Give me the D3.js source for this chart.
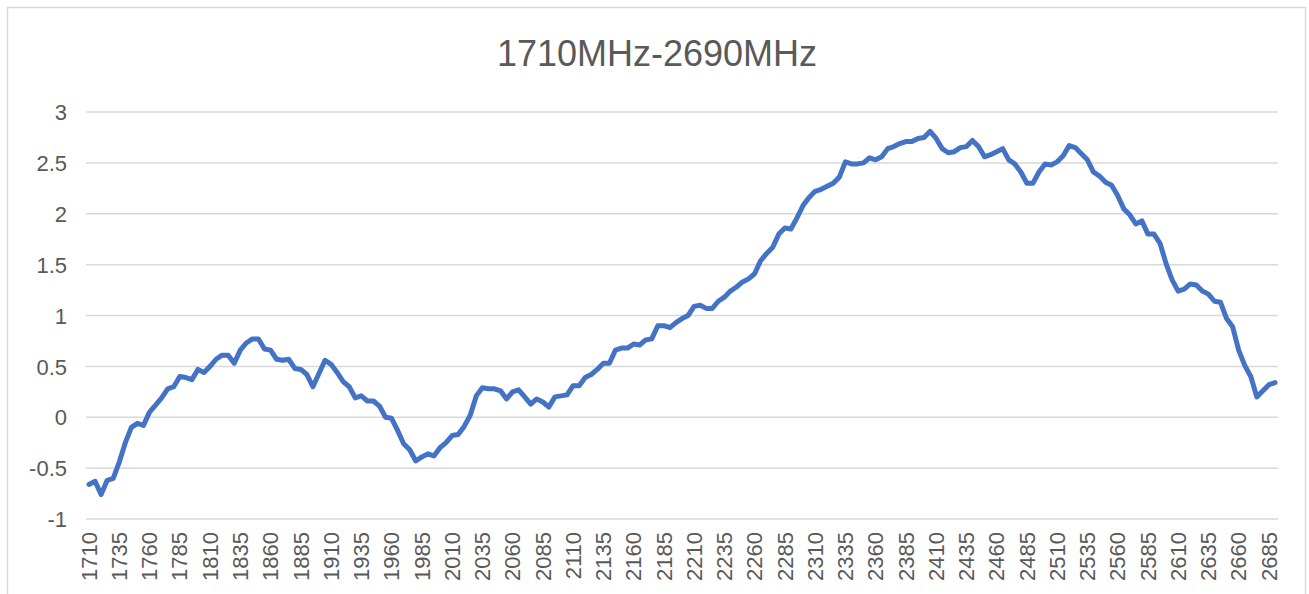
<!DOCTYPE html>
<html>
<head>
<meta charset="utf-8">
<script src="https://cdn.jsdelivr.net/npm/d3@7"></script>
<style>
  body { margin: 0; background: #fff; }
  svg text { font-family: "Liberation Sans", Arial, sans-serif; fill: #595959; }
</style>
</head>
<body>
<svg id="chart" width="1309" height="594"></svg>
<script>
// frequency categories (MHz), 5 MHz steps
const freqs = d3.range(1710, 2695, 5);

// measured values, one per frequency
const values = [
  -0.66, -0.63, -0.76, -0.62, -0.60, -0.44, -0.25, -0.10, -0.06, -0.08,
  0.05, 0.12, 0.19, 0.28, 0.30, 0.40, 0.39, 0.37, 0.47, 0.44,
  0.50, 0.57, 0.61, 0.61, 0.53, 0.66, 0.73, 0.77, 0.77,
  0.67, 0.66, 0.57, 0.56, 0.57, 0.48, 0.47, 0.42, 0.30, 0.43,
  0.56, 0.52, 0.44, 0.35, 0.30, 0.19, 0.21, 0.16, 0.16, 0.11,
  0.00, -0.01, -0.13, -0.26, -0.32, -0.43, -0.39, -0.36,
  -0.38, -0.30, -0.25, -0.18, -0.17, -0.09, 0.02, 0.21, 0.29, 0.28,
  0.28, 0.26, 0.18, 0.25, 0.27, 0.20, 0.13, 0.18, 0.15, 0.10,
  0.20, 0.21, 0.22, 0.31, 0.31, 0.39, 0.42, 0.47,
  0.53, 0.53, 0.66, 0.68, 0.68, 0.72, 0.71, 0.76, 0.77, 0.90,
  0.90, 0.88, 0.93, 0.97, 1.00, 1.09, 1.10, 1.07, 1.07, 1.14,
  1.18, 1.24, 1.28, 1.33, 1.36, 1.41, 1.54, 1.61,
  1.67, 1.80, 1.86, 1.85, 1.96, 2.08, 2.16, 2.22, 2.24, 2.27,
  2.30, 2.36, 2.51, 2.49, 2.49, 2.50, 2.55, 2.53, 2.56, 2.64,
  2.66, 2.69, 2.71, 2.71, 2.74, 2.75, 2.81, 2.74,
  2.64, 2.60, 2.61, 2.65, 2.66, 2.72, 2.66, 2.56, 2.58, 2.61,
  2.64, 2.53, 2.49, 2.41, 2.30, 2.30, 2.41, 2.49, 2.48, 2.51,
  2.57, 2.67, 2.65, 2.59, 2.53, 2.41, 2.37, 2.31,
  2.28, 2.18, 2.05, 1.99, 1.90, 1.93, 1.80, 1.80, 1.71, 1.51,
  1.35, 1.24, 1.26, 1.31, 1.30, 1.24, 1.21, 1.14, 1.13, 0.97,
  0.89, 0.66, 0.51, 0.40, 0.20, 0.26, 0.32, 0.34
];

// labelled categories: every 25 MHz
const xTickLabels = freqs.filter((f, i) => i % 5 === 0);
const yTicks = [-1, -0.5, 0, 0.5, 1, 1.5, 2, 2.5, 3];

const title = '1710MHz-2690MHz';

const svg = d3.select('#chart');

// chart border
svg.append('rect')
  .attr('x', 7.5).attr('y', 7.5)
  .attr('width', 1298).attr('height', 600)
  .attr('fill', 'none')
  .attr('stroke', '#d9d9d9')
  .attr('stroke-width', 1.5);

const x = d3.scaleBand()
  .domain(freqs)
  .range([86, 1278])
  .padding(0);

const y = d3.scaleLinear()
  .domain([-1, 3])
  .range([519, 112]);

// gridlines
svg.append('g')
  .selectAll('line')
  .data(yTicks)
  .enter()
  .append('line')
  .attr('x1', 86).attr('x2', 1278)
  .attr('y1', d => y(d)).attr('y2', d => y(d))
  .attr('stroke', '#d9d9d9')
  .attr('stroke-width', 1.5);

// y axis labels
const yAxis = svg.append('g')
  .attr('transform', 'translate(67,0)')
  .call(d3.axisLeft(y).tickValues(yTicks).tickSize(0).tickPadding(0).tickFormat(d => String(d)));
yAxis.select('.domain').remove();
yAxis.selectAll('text')
  .style('font-size', '22px')
  .attr('fill', '#595959')
  .attr('dy', '0.35em');

// x axis labels, rotated
const xAxis = svg.append('g')
  .attr('transform', 'translate(0,532)')
  .call(d3.axisBottom(x).tickValues(xTickLabels).tickSize(0).tickPadding(0));
xAxis.select('.domain').remove();
xAxis.selectAll('text')
  .style('font-size', '22px')
  .attr('fill', '#595959')
  .attr('transform', 'rotate(-90)')
  .attr('text-anchor', 'end')
  .attr('x', 0)
  .attr('y', 0)
  .attr('dx', 0)
  .attr('dy', '0.35em');

// series line
const line = d3.line()
  .x((d, i) => x(freqs[i]) + x.bandwidth() / 2)
  .y(d => y(d));

svg.append('path')
  .datum(values)
  .attr('d', line)
  .attr('fill', 'none')
  .attr('stroke', '#4472c4')
  .attr('stroke-width', 5)
  .attr('stroke-linejoin', 'round')
  .attr('stroke-linecap', 'round');

// title
svg.append('text')
  .attr('x', 657)
  .attr('y', 66)
  .attr('text-anchor', 'middle')
  .style('font-size', '36px')
  .attr('fill', '#595959')
  .text(title);
</script>
</body>
</html>
